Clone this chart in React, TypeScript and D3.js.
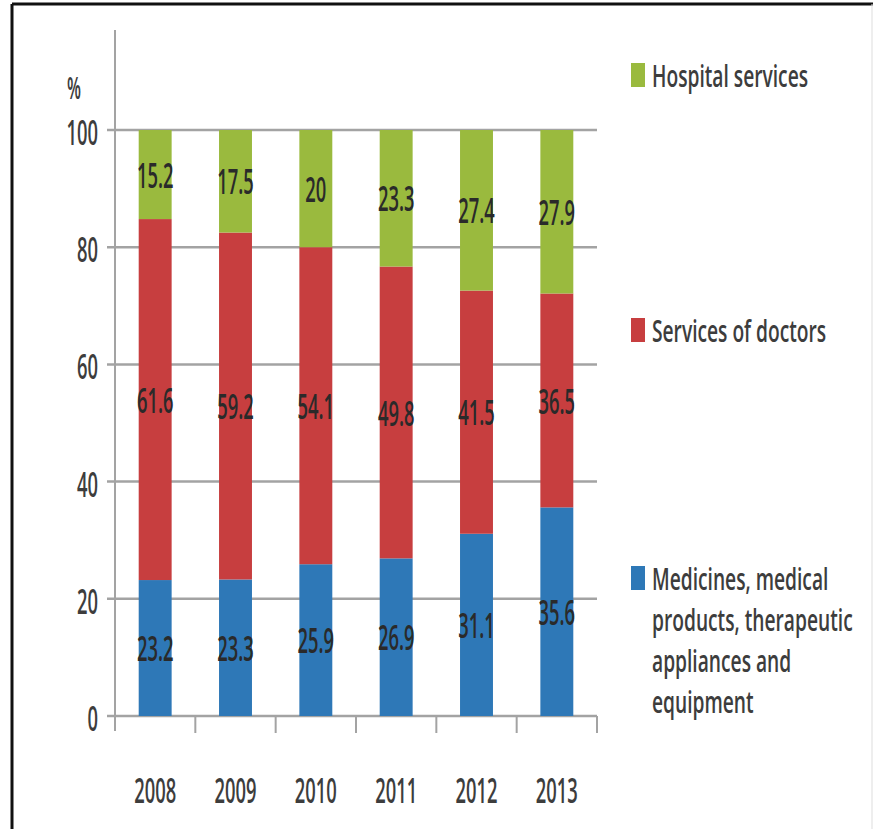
import React from 'react'
import * as d3 from 'd3'

const years = ['2008', '2009', '2010', '2011', '2012', '2013']
const medicines = [23.2, 23.3, 25.9, 26.9, 31.1, 35.6]
const doctors = [61.6, 59.2, 54.1, 49.8, 41.5, 36.5]
const hospital = [15.2, 17.5, 20, 23.3, 27.4, 27.9]
const yTicks = [0, 20, 40, 60, 80, 100]

const seriesNames = ['Medicines, medical products, therapeutic appliances and equipment', 'Services of doctors', 'Hospital services']
const legendLines = [
  ['Hospital services'],
  ['Services of doctors'],
  ['Medicines, medical', 'products, therapeutic', 'appliances and', 'equipment'],
]
const colors = ['#2e78b7', '#c73e3f', '#9aba3e']
const legendColors = ['#9aba3e', '#c73e3f', '#2e78b7']

const W = 875
const H = 831

const Txt = (p: { x: number, y: number, anchor?: string, size?: number, sx?: number, fill?: string, children: React.ReactNode }) => (
  <text
    transform={`translate(${p.x},${p.y}) scale(${p.sx || 0.54},1)`}
    textAnchor={p.anchor || 'middle'}
    dominantBaseline="central"
    fontFamily="'Open Sans', 'DejaVu Sans', sans-serif"
    fontWeight={600}
    fontSize={p.size || 34}
    fill={p.fill || '#3d3d3d'}
  >{p.children}</text>
)

export default function App() {
  const x = d3.scaleBand<string>().domain(years).range([115, 597]).paddingInner(0.59).paddingOuter(0.295)
  const y = d3.scaleLinear().domain([0, 100]).range([716, 130])

  const rows = years.map((yr, i) => ({ year: yr, s0: medicines[i], s1: doctors[i], s2: hospital[i] }))
  const stacked = d3.stack<any>().keys(['s0', 's1', 's2'])(rows)
  const step = x.step()
  const fmt = (v: number) => String(Math.round(v * 10) / 10)

  return (
    <svg width={W} height={H} style={{ position: 'absolute', left: 0, top: 0, background: '#fff' }}>
      {/* frame */}
      <line x1={12} y1={4} x2={873} y2={4} stroke="#111" strokeWidth={3} />
      <line x1={12} y1={4} x2={12} y2={829} stroke="#111" strokeWidth={3} />
      <line x1={872} y1={4} x2={872} y2={829} stroke="#ddd" strokeWidth={1} />

      {/* gridlines */}
      {yTicks.map(t => (
        <line key={t} x1={107} x2={597} y1={y(t)} y2={y(t)} stroke="#a3a3a3" strokeWidth={2.5} />
      ))}
      {/* y axis */}
      <line x1={115} x2={115} y1={30} y2={731} stroke="#a3a3a3" strokeWidth={2} />
      {/* x ticks at category boundaries */}
      {years.map((yr, i) => {
        const bx = 115 + step * (i + 1)
        return <line key={yr} x1={bx} x2={bx} y1={716} y2={733} stroke="#a3a3a3" strokeWidth={2} />
      })}

      {/* bars */}
      {stacked.map((layer, li) => (
        <g key={li} fill={colors[li]}>
          {layer.map((d: any, i: number) => (
            <rect key={i} x={x(years[i])} width={x.bandwidth()} y={y(d[1])} height={y(d[0]) - y(d[1])} />
          ))}
        </g>
      ))}

      {/* value labels */}
      {stacked.map((layer, li) => (
        <g key={'l' + li}>
          {layer.map((d: any, i: number) => (
            <Txt key={i} x={(x(years[i]) || 0) + x.bandwidth() / 2} y={(y(d[0]) + y(d[1])) / 2} fill="#2a2a2a">
              {fmt(d[1] - d[0])}
            </Txt>
          ))}
        </g>
      ))}

      {/* y tick labels */}
      {yTicks.map(t => (
        <Txt key={t} x={98} y={y(t) + 2} anchor="end">{t}</Txt>
      ))}
      <Txt x={74} y={87} size={30}>%</Txt>

      {/* x labels */}
      {years.map(yr => (
        <Txt key={yr} x={(x(yr) || 0) + x.bandwidth() / 2} y={790}>{yr}</Txt>
      ))}

      {/* legend */}
      {legendLines.map((lines, li) => {
        const ly = [75, 330, 578][li]
        return (
          <g key={li}>
            <rect x={631} y={ly - 12} width={14} height={24} fill={legendColors[li]} />
            {lines.map((ln, k) => (
              <Txt key={k} x={652} y={ly + k * 41} anchor="start" size={30} sx={0.64}>{ln}</Txt>
            ))}
          </g>
        )
      })}
      <title>{seriesNames.join(', ')}</title>
    </svg>
  )
}
